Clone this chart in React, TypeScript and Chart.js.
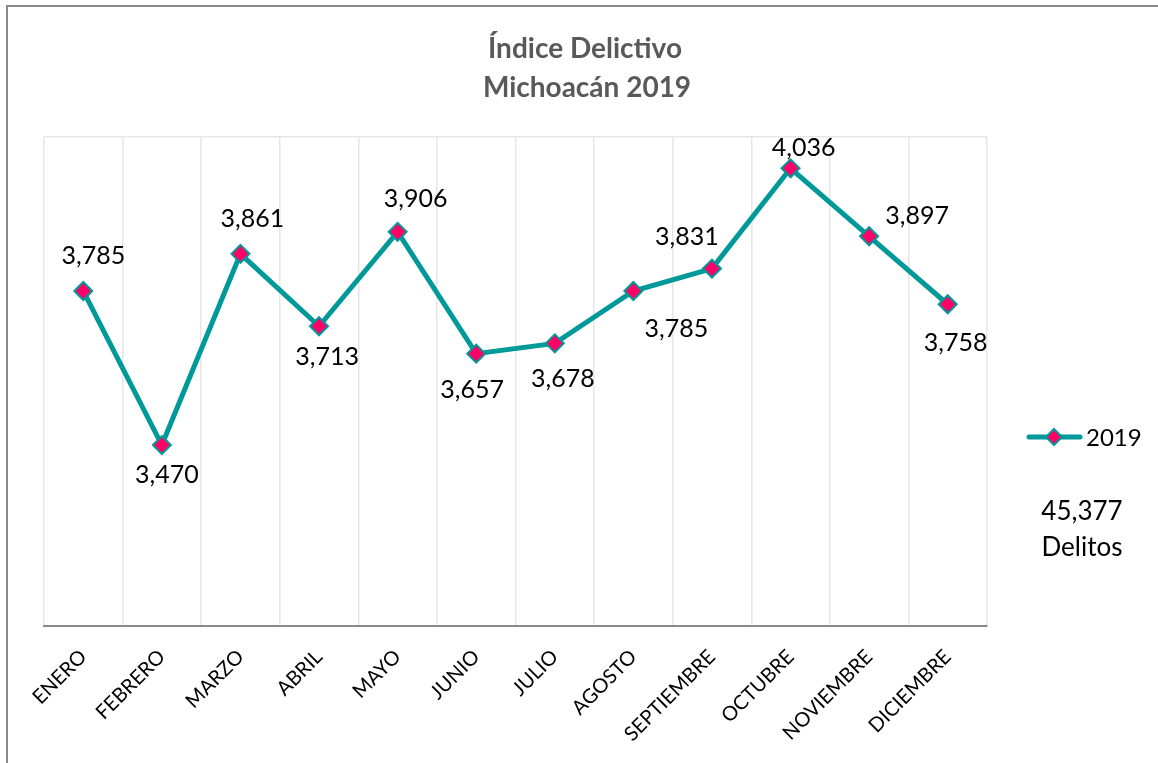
import React, { useEffect, useRef } from "react";
import { Chart, registerables } from "chart.js";

Chart.register(...registerables);

const MONTHS = [
  "ENERO", "FEBRERO", "MARZO", "ABRIL", "MAYO", "JUNIO",
  "JULIO", "AGOSTO", "SEPTIEMBRE", "OCTUBRE", "NOVIEMBRE", "DICIEMBRE",
];
const DELITOS_2019 = [3785, 3470, 3861, 3713, 3906, 3657, 3678, 3785, 3831, 4036, 3897, 3758];
const SERIES_NAME = "2019";
const TITLE_LINES = ["Índice Delictivo", "Michoacán 2019"];
const TOTAL_LINES = ["45,377", "Delitos"];
const Y_MIN = 3100;
const Y_MAX = 4100;

// label placement relative to each point (styling only)
const LABEL_OFFSETS: [number, number][] = [
  [10, -36], [5, 29], [12, -36], [8, 30], [18, -34], [-4, 35],
  [8, 35], [43, 37], [-25, -33], [13, -21], [48, -21], [8, 38],
];

const TEAL = "#009999";
const PINK = "#FF0066";
const FONT = "Lato, 'Open Sans', sans-serif";

const fmt = (v: number) => v.toLocaleString("en-US");

const decorPlugin = {
  id: "decor",
  beforeDraw(chart: any) {
    const ctx = chart.ctx;
    ctx.save();
    ctx.fillStyle = "#ffffff";
    ctx.fillRect(0, 0, chart.width, chart.height);
    ctx.strokeStyle = "#8a8a8a";
    ctx.lineWidth = 2;
    ctx.strokeRect(7, 6, chart.width + 20, chart.height + 20);
    ctx.restore();
  },
  afterDraw(chart: any) {
    const ctx = chart.ctx;
    ctx.save();
    // title
    ctx.fillStyle = "#595959";
    ctx.font = `bold 28px ${FONT}`;
    ctx.textAlign = "center";
    ctx.textBaseline = "alphabetic";
    ctx.fillText(TITLE_LINES[0], 585, 58);
    ctx.fillText(TITLE_LINES[1], 587, 97);

    // data labels
    const meta = chart.getDatasetMeta(0);
    ctx.fillStyle = "#000000";
    ctx.font = `25px ${FONT}`;
    meta.data.forEach((pt: any, i: number) => {
      const [dx, dy] = LABEL_OFFSETS[i] || [0, -30];
      ctx.fillText(fmt(DELITOS_2019[i]), pt.x + dx, pt.y + dy + 9);
    });

    // legend
    const ly = 437;
    ctx.strokeStyle = TEAL;
    ctx.lineWidth = 5;
    ctx.lineCap = "round";
    ctx.beginPath();
    ctx.moveTo(1029, ly);
    ctx.lineTo(1080, ly);
    ctx.stroke();
    ctx.beginPath();
    const cx = 1054, r = 8;
    ctx.moveTo(cx - r, ly);
    ctx.lineTo(cx, ly - r);
    ctx.lineTo(cx + r, ly);
    ctx.lineTo(cx, ly + r);
    ctx.closePath();
    ctx.fillStyle = PINK;
    ctx.fill();
    ctx.lineWidth = 2;
    ctx.lineCap = "butt";
    ctx.strokeStyle = TEAL;
    ctx.stroke();
    ctx.fillStyle = "#000000";
    ctx.textAlign = "left";
    ctx.font = `24px ${FONT}`;
    ctx.fillText(SERIES_NAME, 1086, ly + 8.6);

    // total
    ctx.textAlign = "center";
    ctx.font = `26px ${FONT}`;
    ctx.fillText(TOTAL_LINES[0], 1082, 520);
    ctx.fillText(TOTAL_LINES[1], 1082, 556);
    ctx.restore();
  },
};

export default function App() {
  const ref = useRef<HTMLCanvasElement | null>(null);

  useEffect(() => {
    document.body.style.margin = "0";
    const canvas = ref.current;
    if (!canvas) return;
    const chart = new Chart(canvas, {
      type: "line",
      data: {
        labels: MONTHS,
        datasets: [
          {
            label: SERIES_NAME,
            data: DELITOS_2019,
            borderColor: TEAL,
            borderWidth: 5,
            pointStyle: "rectRot",
            pointRadius: 9,
            pointBackgroundColor: PINK,
            pointBorderColor: TEAL,
            pointBorderWidth: 2,
            tension: 0,
          },
        ],
      },
      options: {
        responsive: false,
        animation: false,
        devicePixelRatio: 1,
        layout: { padding: { left: 44, right: 171, top: 137, bottom: 0 } },
        plugins: {
          legend: { display: false },
          title: { display: false },
          tooltip: { enabled: false },
        },
        scales: {
          x: {
            offset: true,
            grid: { offset: true, color: "#e6e6e6", lineWidth: 1.5, drawTicks: false },
            border: { color: "#8a8a8a", width: 2 },
            ticks: {
              minRotation: 45,
              maxRotation: 45,
              color: "#000000",
              font: { family: FONT, size: 20 },
              padding: 19,
              autoSkip: false,
            },
            afterFit: (s: any) => {
              s.height = 137;
            },
          },
          y: {
            min: Y_MIN,
            max: Y_MAX,
            ticks: { display: false, stepSize: 1000 },
            grid: {
              drawTicks: false,
              color: (c: any) => (c.tick && c.tick.value === Y_MAX ? "#e6e6e6" : "rgba(0,0,0,0)"),
              lineWidth: 1.5,
            },
            border: { display: false },
            afterFit: (s: any) => {
              s.width = 0;
            },
          },
        },
      },
      plugins: [decorPlugin],
    });
    return () => chart.destroy();
  }, []);

  return (
    <div style={{ width: 1158, height: 763, position: "relative" }}>
      <canvas ref={ref} width={1158} height={763} style={{ display: "block" }} />
    </div>
  );
}
